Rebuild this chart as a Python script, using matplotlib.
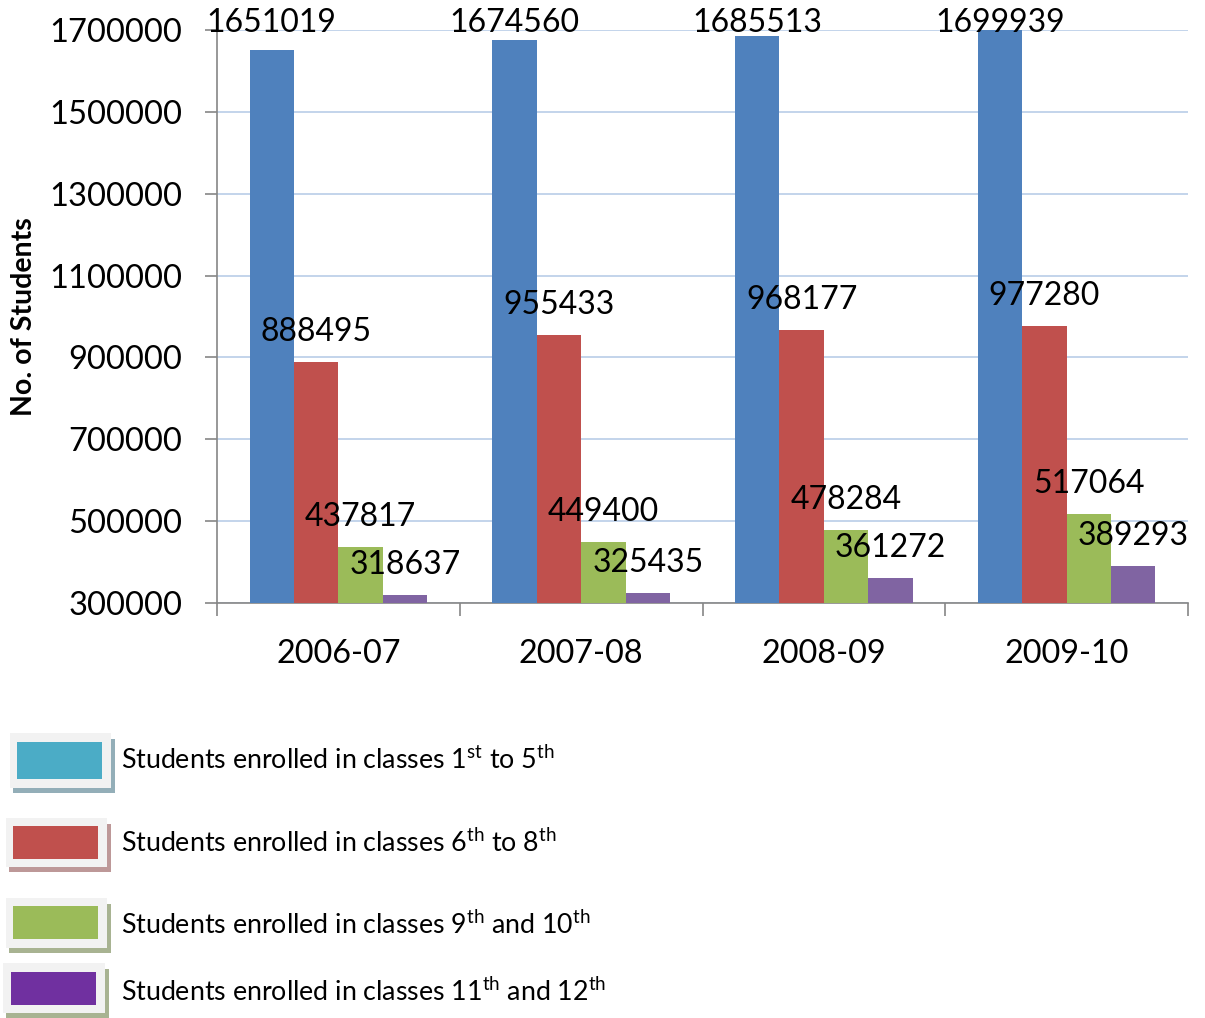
import matplotlib
matplotlib.use("Agg")
import matplotlib.pyplot as plt
from matplotlib.patches import Rectangle
import numpy as np

plt.rcParams['font.family'] = ['Lato', 'DejaVu Sans']
plt.rcParams['mathtext.fontset'] = 'custom'
plt.rcParams['mathtext.rm'] = 'Lato'
plt.rcParams['mathtext.it'] = 'Lato'

# data
years = ['2006-07', '2007-08', '2008-09', '2009-10']
classes_1_5 = [1651019, 1674560, 1685513, 1699939]
classes_6_8 = [888495, 955433, 968177, 977280]
classes_9_10 = [437817, 449400, 478284, 517064]
classes_11_12 = [318637, 325435, 361272, 389293]
yticks = [300000, 500000, 700000, 900000, 1100000, 1300000, 1500000, 1700000]

legend_labels = [
    r'Students enrolled in classes 1$^{\mathrm{st}}$ to 5$^{\mathrm{th}}$',
    r'Students enrolled in classes 6$^{\mathrm{th}}$ to 8$^{\mathrm{th}}$',
    r'Students enrolled in classes 9$^{\mathrm{th}}$ and 10$^{\mathrm{th}}$',
    r'Students enrolled in classes 11$^{\mathrm{th}}$ and 12$^{\mathrm{th}}$',
]

bar_colors = ['#4F81BD', '#C0504D', '#9BBB59', '#8064A2']
legend_colors = ['#4BACC6', '#C0504D', '#9BBB59', '#7030A0']
shadow_colors = ['#93AEB8', '#BD9898', '#A8B392', '#A8B392']

W, H = 1205, 1018
fig = plt.figure(figsize=(W / 100, H / 100), dpi=100)
ax = fig.add_axes([217 / W, 1 - 603 / H, (1188 - 217) / W, (603 - 30) / H])

ax.set_xlim(-0.5, 3.5)
ax.set_ylim(300000, 1700000)

series = [classes_1_5, classes_6_8, classes_9_10, classes_11_12]
x = np.arange(len(years))
bw = 0.183
for i, vals in enumerate(series):
    xs = x + (i - 1.5) * bw
    ax.bar(xs, vals, width=bw, color=bar_colors[i], zorder=3)
    for xi, v in zip(xs, vals):
        # label sits ~30px above the bar, but is kept inside the figure top (like Excel)
        px, py = ax.transData.transform((xi, v))
        py = min(py + 30, H - 23)
        fig.text(px / W, py / H, str(v), ha='center', va='center',
                 fontsize=23, zorder=5)

ax.set_yticks(yticks)
ax.set_yticklabels([str(t) for t in yticks], fontsize=23.5)
ax.set_xticks(np.arange(-0.5, 4, 1))
ax.set_xticklabels([])
ax.set_xticks(x, minor=True)
ax.set_xticklabels(years, minor=True, fontsize=23.3)
ax.tick_params(axis='x', which='minor', length=0, pad=26)
ax.tick_params(axis='x', which='major', length=9, color='#868686', width=1.2)
ax.tick_params(axis='y', length=9, color='#868686', width=1.2, pad=16)
ax.grid(axis='y', color='#B9CDE8', linewidth=1.2, zorder=0)
for s in ['top', 'right']:
    ax.spines[s].set_visible(False)
for s in ['left', 'bottom']:
    ax.spines[s].set_color('#868686')
    ax.spines[s].set_linewidth(1.2)

fig.text(24 / W, 1 - 317 / H, 'No. of Students', rotation=90, ha='center',
         va='center', fontsize=20.5, fontweight='bold')

# hand-drawn legend boxes
def px_rect(x0, y0, x1, y1, color):
    fig.add_artist(Rectangle((x0 / W, 1 - y1 / H), (x1 - x0) / W, (y1 - y0) / H,
                             transform=fig.transFigure, facecolor=color,
                             edgecolor='none'))

frames = [(10, 733, 111, 788), (6, 818, 107, 867), (6, 898, 107, 948), (3, 963, 105, 1013)]
boxes = [(17, 742, 102, 779), (13, 826, 98, 859), (13, 906, 98, 939), (11, 972, 96, 1005)]
text_y = [760, 843, 925, 992]
for i in range(4):
    fx0, fy0, fx1, fy1 = frames[i]
    px_rect(fx0 + 3, fy0 + 6, fx1 + 4, fy1 + 5, shadow_colors[i])
    px_rect(fx0, fy0, fx1, fy1, '#F2F2F2')
    bx0, by0, bx1, by1 = boxes[i]
    px_rect(bx0, by0, bx1, by1, legend_colors[i])
    fig.text(121 / W, 1 - text_y[i] / H, legend_labels[i], ha='left', va='center',
             fontsize=19.3)

fig.savefig('out.png', dpi=100)
